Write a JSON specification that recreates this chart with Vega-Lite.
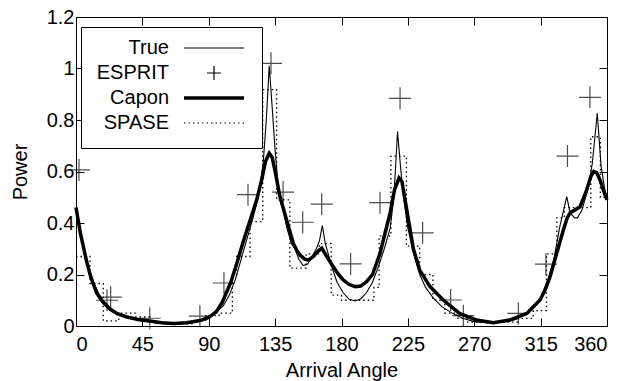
{
  "$schema": "https://vega.github.io/schema/vega-lite/v6.json",
  "width": 531,
  "height": 309,
  "autosize": {"type": "none"},
  "padding": {"left": 76, "top": 17, "right": 19, "bottom": 55},
  "background": "white",
  "config": {
    "font": "Liberation Sans",
    "view": {"stroke": "black", "strokeWidth": 1},
    "axis": {
      "domain": false,
      "grid": false,
      "tickColor": "black",
      "tickWidth": 1,
      "tickSize": -8,
      "labelFont": "Liberation Sans",
      "labelFontSize": 20,
      "labelColor": "black",
      "titleFont": "Liberation Sans",
      "titleFontSize": 20,
      "titleFontWeight": "normal",
      "titleColor": "black"
    },
    "legend": {
      "orient": "none",
      "legendX": 5,
      "legendY": 10,
      "strokeColor": "black",
      "fillColor": "white",
      "padding": 11,
      "labelFont": "Liberation Sans",
      "labelFontSize": 20,
      "labelColor": "black",
      "labelAlign": "right",
      "labelOffset": -55,
      "symbolOffset": 112,
      "symbolSize": 576,
      "rowPadding": 5,
      "titleOrient": "bottom",
      "titleFontSize": 4,
      "titlePadding": 0
    }
  },
  "data": {
    "values": [
      {"series": "True", "angle": 0, "power": 0.46},
      {"series": "True", "angle": 3, "power": 0.37},
      {"series": "True", "angle": 6, "power": 0.29},
      {"series": "True", "angle": 9, "power": 0.22},
      {"series": "True", "angle": 12, "power": 0.17},
      {"series": "True", "angle": 15, "power": 0.13},
      {"series": "True", "angle": 18, "power": 0.1},
      {"series": "True", "angle": 22, "power": 0.075},
      {"series": "True", "angle": 26, "power": 0.058},
      {"series": "True", "angle": 30, "power": 0.045},
      {"series": "True", "angle": 35, "power": 0.035},
      {"series": "True", "angle": 40, "power": 0.027},
      {"series": "True", "angle": 45, "power": 0.021},
      {"series": "True", "angle": 50, "power": 0.016},
      {"series": "True", "angle": 55, "power": 0.012},
      {"series": "True", "angle": 60, "power": 0.01},
      {"series": "True", "angle": 65, "power": 0.009},
      {"series": "True", "angle": 70, "power": 0.009},
      {"series": "True", "angle": 75, "power": 0.011},
      {"series": "True", "angle": 80, "power": 0.015},
      {"series": "True", "angle": 85, "power": 0.022},
      {"series": "True", "angle": 90, "power": 0.033},
      {"series": "True", "angle": 95, "power": 0.05},
      {"series": "True", "angle": 100, "power": 0.08},
      {"series": "True", "angle": 104, "power": 0.12},
      {"series": "True", "angle": 108, "power": 0.18},
      {"series": "True", "angle": 112, "power": 0.26},
      {"series": "True", "angle": 116, "power": 0.34},
      {"series": "True", "angle": 120, "power": 0.42},
      {"series": "True", "angle": 124, "power": 0.51},
      {"series": "True", "angle": 127, "power": 0.64},
      {"series": "True", "angle": 129, "power": 0.8},
      {"series": "True", "angle": 131, "power": 1.01},
      {"series": "True", "angle": 133, "power": 0.85},
      {"series": "True", "angle": 135, "power": 0.68},
      {"series": "True", "angle": 137, "power": 0.55},
      {"series": "True", "angle": 140, "power": 0.46},
      {"series": "True", "angle": 143, "power": 0.38},
      {"series": "True", "angle": 146, "power": 0.32},
      {"series": "True", "angle": 148.5, "power": 0.3},
      {"series": "True", "angle": 151, "power": 0.26},
      {"series": "True", "angle": 154, "power": 0.235},
      {"series": "True", "angle": 157, "power": 0.24},
      {"series": "True", "angle": 160, "power": 0.27},
      {"series": "True", "angle": 163, "power": 0.3},
      {"series": "True", "angle": 165, "power": 0.33},
      {"series": "True", "angle": 167, "power": 0.39},
      {"series": "True", "angle": 169, "power": 0.32},
      {"series": "True", "angle": 171, "power": 0.28},
      {"series": "True", "angle": 174, "power": 0.22},
      {"series": "True", "angle": 177, "power": 0.17},
      {"series": "True", "angle": 181, "power": 0.13},
      {"series": "True", "angle": 185, "power": 0.105},
      {"series": "True", "angle": 189, "power": 0.097},
      {"series": "True", "angle": 193, "power": 0.105},
      {"series": "True", "angle": 197, "power": 0.13},
      {"series": "True", "angle": 201, "power": 0.17},
      {"series": "True", "angle": 205, "power": 0.23},
      {"series": "True", "angle": 209, "power": 0.3},
      {"series": "True", "angle": 213, "power": 0.38},
      {"series": "True", "angle": 215.5, "power": 0.5},
      {"series": "True", "angle": 218, "power": 0.755},
      {"series": "True", "angle": 220, "power": 0.62},
      {"series": "True", "angle": 222, "power": 0.5},
      {"series": "True", "angle": 225, "power": 0.38},
      {"series": "True", "angle": 229, "power": 0.28},
      {"series": "True", "angle": 233, "power": 0.2},
      {"series": "True", "angle": 237, "power": 0.15},
      {"series": "True", "angle": 242, "power": 0.11},
      {"series": "True", "angle": 248, "power": 0.075},
      {"series": "True", "angle": 255, "power": 0.05},
      {"series": "True", "angle": 262, "power": 0.03},
      {"series": "True", "angle": 270, "power": 0.017},
      {"series": "True", "angle": 280, "power": 0.012},
      {"series": "True", "angle": 290, "power": 0.015},
      {"series": "True", "angle": 298, "power": 0.025},
      {"series": "True", "angle": 305, "power": 0.045},
      {"series": "True", "angle": 310, "power": 0.07},
      {"series": "True", "angle": 315, "power": 0.11},
      {"series": "True", "angle": 320, "power": 0.18},
      {"series": "True", "angle": 324, "power": 0.26},
      {"series": "True", "angle": 328, "power": 0.386},
      {"series": "True", "angle": 331, "power": 0.46},
      {"series": "True", "angle": 332.7, "power": 0.502},
      {"series": "True", "angle": 335, "power": 0.44},
      {"series": "True", "angle": 338, "power": 0.42},
      {"series": "True", "angle": 340, "power": 0.42},
      {"series": "True", "angle": 343, "power": 0.45},
      {"series": "True", "angle": 347, "power": 0.53},
      {"series": "True", "angle": 350, "power": 0.63},
      {"series": "True", "angle": 353.4, "power": 0.826},
      {"series": "True", "angle": 356, "power": 0.62},
      {"series": "True", "angle": 358.5, "power": 0.53},
      {"series": "True", "angle": 360, "power": 0.5},

      {"series": "Capon", "angle": 0, "power": 0.46},
      {"series": "Capon", "angle": 3, "power": 0.36},
      {"series": "Capon", "angle": 7, "power": 0.256},
      {"series": "Capon", "angle": 10, "power": 0.19},
      {"series": "Capon", "angle": 14, "power": 0.128},
      {"series": "Capon", "angle": 18, "power": 0.095},
      {"series": "Capon", "angle": 23, "power": 0.066},
      {"series": "Capon", "angle": 28, "power": 0.048},
      {"series": "Capon", "angle": 34, "power": 0.036},
      {"series": "Capon", "angle": 42, "power": 0.025},
      {"series": "Capon", "angle": 50, "power": 0.019},
      {"series": "Capon", "angle": 58, "power": 0.013},
      {"series": "Capon", "angle": 66, "power": 0.01},
      {"series": "Capon", "angle": 75, "power": 0.013},
      {"series": "Capon", "angle": 84, "power": 0.021},
      {"series": "Capon", "angle": 90, "power": 0.033},
      {"series": "Capon", "angle": 95, "power": 0.055},
      {"series": "Capon", "angle": 99, "power": 0.09},
      {"series": "Capon", "angle": 102, "power": 0.13},
      {"series": "Capon", "angle": 105, "power": 0.17},
      {"series": "Capon", "angle": 109, "power": 0.243},
      {"series": "Capon", "angle": 113, "power": 0.32},
      {"series": "Capon", "angle": 118, "power": 0.41},
      {"series": "Capon", "angle": 122.5, "power": 0.49},
      {"series": "Capon", "angle": 126, "power": 0.57},
      {"series": "Capon", "angle": 128.5, "power": 0.64},
      {"series": "Capon", "angle": 131, "power": 0.671},
      {"series": "Capon", "angle": 133, "power": 0.655},
      {"series": "Capon", "angle": 135, "power": 0.6},
      {"series": "Capon", "angle": 138.3, "power": 0.502},
      {"series": "Capon", "angle": 142.8, "power": 0.412},
      {"series": "Capon", "angle": 147.3, "power": 0.321},
      {"series": "Capon", "angle": 150, "power": 0.29},
      {"series": "Capon", "angle": 152, "power": 0.275},
      {"series": "Capon", "angle": 155, "power": 0.26},
      {"series": "Capon", "angle": 157.5, "power": 0.256},
      {"series": "Capon", "angle": 161, "power": 0.27},
      {"series": "Capon", "angle": 164, "power": 0.29},
      {"series": "Capon", "angle": 166.6, "power": 0.302},
      {"series": "Capon", "angle": 170, "power": 0.27},
      {"series": "Capon", "angle": 174.4, "power": 0.23},
      {"series": "Capon", "angle": 178, "power": 0.2},
      {"series": "Capon", "angle": 181.2, "power": 0.179},
      {"series": "Capon", "angle": 185, "power": 0.162},
      {"series": "Capon", "angle": 189.2, "power": 0.153},
      {"series": "Capon", "angle": 193, "power": 0.155},
      {"series": "Capon", "angle": 197, "power": 0.172},
      {"series": "Capon", "angle": 201, "power": 0.2},
      {"series": "Capon", "angle": 206, "power": 0.28},
      {"series": "Capon", "angle": 209.5, "power": 0.36},
      {"series": "Capon", "angle": 213, "power": 0.44},
      {"series": "Capon", "angle": 216, "power": 0.53},
      {"series": "Capon", "angle": 219, "power": 0.575},
      {"series": "Capon", "angle": 221, "power": 0.56},
      {"series": "Capon", "angle": 224, "power": 0.46},
      {"series": "Capon", "angle": 228.7, "power": 0.3},
      {"series": "Capon", "angle": 233, "power": 0.217},
      {"series": "Capon", "angle": 240, "power": 0.153},
      {"series": "Capon", "angle": 249, "power": 0.101},
      {"series": "Capon", "angle": 260, "power": 0.049},
      {"series": "Capon", "angle": 271.6, "power": 0.023},
      {"series": "Capon", "angle": 283, "power": 0.013},
      {"series": "Capon", "angle": 294, "power": 0.023},
      {"series": "Capon", "angle": 305.6, "power": 0.049},
      {"series": "Capon", "angle": 314.6, "power": 0.101},
      {"series": "Capon", "angle": 318, "power": 0.14},
      {"series": "Capon", "angle": 321.4, "power": 0.191},
      {"series": "Capon", "angle": 325.9, "power": 0.282},
      {"series": "Capon", "angle": 330.4, "power": 0.373},
      {"series": "Capon", "angle": 333, "power": 0.42},
      {"series": "Capon", "angle": 335, "power": 0.44},
      {"series": "Capon", "angle": 338, "power": 0.45},
      {"series": "Capon", "angle": 341.7, "power": 0.463},
      {"series": "Capon", "angle": 346.2, "power": 0.528},
      {"series": "Capon", "angle": 349, "power": 0.58},
      {"series": "Capon", "angle": 351, "power": 0.6},
      {"series": "Capon", "angle": 353, "power": 0.595},
      {"series": "Capon", "angle": 355.3, "power": 0.567},
      {"series": "Capon", "angle": 358, "power": 0.52},
      {"series": "Capon", "angle": 360, "power": 0.49},

      {"series": "SPASE", "angle": 0, "power": 0.27},
      {"series": "SPASE", "angle": 9.5, "power": 0.165},
      {"series": "SPASE", "angle": 18.5, "power": 0.02},
      {"series": "SPASE", "angle": 29, "power": 0.05},
      {"series": "SPASE", "angle": 40, "power": 0.035},
      {"series": "SPASE", "angle": 50, "power": 0.015},
      {"series": "SPASE", "angle": 60, "power": 0.008},
      {"series": "SPASE", "angle": 80, "power": 0.02},
      {"series": "SPASE", "angle": 88, "power": 0.04},
      {"series": "SPASE", "angle": 97, "power": 0.05},
      {"series": "SPASE", "angle": 106, "power": 0.2},
      {"series": "SPASE", "angle": 109, "power": 0.27},
      {"series": "SPASE", "angle": 118, "power": 0.405},
      {"series": "SPASE", "angle": 126.6, "power": 0.918},
      {"series": "SPASE", "angle": 136, "power": 0.49},
      {"series": "SPASE", "angle": 145, "power": 0.225},
      {"series": "SPASE", "angle": 156, "power": 0.28},
      {"series": "SPASE", "angle": 165, "power": 0.32},
      {"series": "SPASE", "angle": 173, "power": 0.12},
      {"series": "SPASE", "angle": 180, "power": 0.1},
      {"series": "SPASE", "angle": 197, "power": 0.1},
      {"series": "SPASE", "angle": 202, "power": 0.15},
      {"series": "SPASE", "angle": 205.5, "power": 0.35},
      {"series": "SPASE", "angle": 213.5, "power": 0.66},
      {"series": "SPASE", "angle": 224, "power": 0.31},
      {"series": "SPASE", "angle": 233, "power": 0.2},
      {"series": "SPASE", "angle": 242, "power": 0.1},
      {"series": "SPASE", "angle": 250, "power": 0.05},
      {"series": "SPASE", "angle": 258, "power": 0.03},
      {"series": "SPASE", "angle": 265, "power": 0.015},
      {"series": "SPASE", "angle": 300, "power": 0.03},
      {"series": "SPASE", "angle": 310, "power": 0.06},
      {"series": "SPASE", "angle": 319, "power": 0.28},
      {"series": "SPASE", "angle": 326, "power": 0.42},
      {"series": "SPASE", "angle": 331, "power": 0.46},
      {"series": "SPASE", "angle": 349, "power": 0.735},
      {"series": "SPASE", "angle": 355.5, "power": 0.5},
      {"series": "SPASE", "angle": 360, "power": 0.5},

      {"series": "ESPRIT", "angle": 2, "power": 0.606},
      {"series": "ESPRIT", "angle": 21, "power": 0.1},
      {"series": "ESPRIT", "angle": 23.5, "power": 0.112},
      {"series": "ESPRIT", "angle": 50, "power": 0.03},
      {"series": "ESPRIT", "angle": 84, "power": 0.038},
      {"series": "ESPRIT", "angle": 100.3, "power": 0.167},
      {"series": "ESPRIT", "angle": 116.6, "power": 0.51},
      {"series": "ESPRIT", "angle": 132.2, "power": 1.02},
      {"series": "ESPRIT", "angle": 140.4, "power": 0.52},
      {"series": "ESPRIT", "angle": 153.7, "power": 0.403},
      {"series": "ESPRIT", "angle": 166.6, "power": 0.473},
      {"series": "ESPRIT", "angle": 186.2, "power": 0.241},
      {"series": "ESPRIT", "angle": 206.1, "power": 0.479},
      {"series": "ESPRIT", "angle": 219.7, "power": 0.884},
      {"series": "ESPRIT", "angle": 235, "power": 0.362},
      {"series": "ESPRIT", "angle": 254, "power": 0.101},
      {"series": "ESPRIT", "angle": 262.6, "power": 0.04},
      {"series": "ESPRIT", "angle": 299.9, "power": 0.049},
      {"series": "ESPRIT", "angle": 318.6, "power": 0.24},
      {"series": "ESPRIT", "angle": 333.2, "power": 0.66},
      {"series": "ESPRIT", "angle": 348.4, "power": 0.888}
    ]
  },
  "encoding": {
    "x": {"field": "angle", "type": "quantitative", "scale": {"domain": [0, 360], "nice": false, "zero": false}},
    "y": {"field": "power", "type": "quantitative", "scale": {"domain": [0, 1.2], "nice": false}},
    "color": {
      "field": "series",
      "type": "nominal",
      "scale": {"domain": ["True", "ESPRIT", "Capon", "SPASE"], "range": ["black", "black", "black", "black"]},
      "legend": {
        "title": " ",
        "encode": {
          "symbols": {
            "update": {
              "strokeWidth": {"signal": "datum.value === 'Capon' ? 3.5 : 1.2"},
              "strokeDash": {"signal": "datum.value === 'SPASE' ? [1.5, 3] : [1, 0]"}
            }
          }
        }
      }
    }
  },
  "layer": [
    {
      "transform": [{"filter": "datum.series === 'SPASE'"}],
      "mark": {"type": "line", "interpolate": "step-after", "strokeWidth": 1.3, "strokeDash": [1.5, 3]},
      "encoding": {
        "x": {"field": "angle", "type": "quantitative", "axis": {"orient": "top", "labels": false, "title": null, "values": [0, 45, 90, 135, 180, 225, 270, 315, 360]}},
        "y": {"field": "power", "type": "quantitative", "axis": {"orient": "right", "labels": false, "title": null, "values": [0, 0.2, 0.4, 0.6, 0.8, 1, 1.2]}}
      }
    },
    {
      "transform": [{"filter": "datum.series === 'True'"}],
      "mark": {"type": "line", "interpolate": "linear", "strokeWidth": 1.1},
      "encoding": {
        "x": {"field": "angle", "type": "quantitative", "title": "Arrival Angle", "axis": {"orient": "bottom", "values": [0, 45, 90, 135, 180, 225, 270, 315, 360], "labelPadding": 16, "titlePadding": 6}},
        "y": {"field": "power", "type": "quantitative", "title": "Power", "axis": {"orient": "left", "format": "~g", "values": [0, 0.2, 0.4, 0.6, 0.8, 1, 1.2], "labelPadding": 10, "titlePadding": 16}}
      }
    },
    {
      "transform": [{"filter": "datum.series === 'Capon'"}],
      "mark": {"type": "line", "interpolate": "linear", "strokeWidth": 3.5},
      "encoding": {
        "x": {"field": "angle", "type": "quantitative", "axis": null},
        "y": {"field": "power", "type": "quantitative", "axis": null}
      }
    },
    {
      "transform": [{"filter": "datum.series === 'ESPRIT'"}],
      "mark": {"type": "point", "filled": false, "size": 1440, "strokeWidth": 1.2},
      "encoding": {
        "x": {"field": "angle", "type": "quantitative", "axis": null},
        "y": {"field": "power", "type": "quantitative", "axis": null},
        "shape": {"field": "series", "type": "nominal", "scale": {"domain": ["True", "ESPRIT", "Capon", "SPASE"], "range": ["M-2.5,0H2.5", "M-0.58,0H0.58M0,-0.58V0.58", "M-2.5,0H2.5", "M-2.5,0H2.5"]}}
      }
    }
  ],
  "resolve": {"axis": {"x": "independent", "y": "independent"}}
}
